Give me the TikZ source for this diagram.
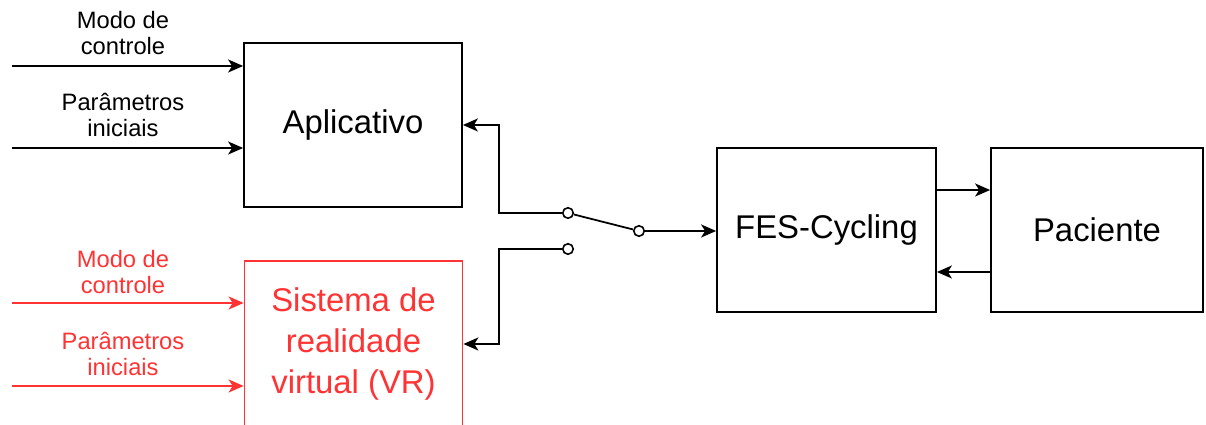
\documentclass[tikz,border=0pt]{standalone}
\usepackage{fontspec}
\setmainfont{Liberation Sans}
\definecolor{vrred}{RGB}{255,51,51}
\usetikzlibrary{arrows.meta,positioning,calc}

\begin{document}
\begin{tikzpicture}[
    line width=1pt,
    >={Stealth[length=0.3cm,width=0.26cm,inset=0.08cm]},
    block/.style={draw, minimum width=4.36cm, minimum height=3.28cm, align=center, inner sep=0pt, font=\fontsize{18.7}{23.2}\selectfont},
    inlabel/.style={align=center, font=\fontsize{13.5}{15}\selectfont},
    contact/.style={circle, draw, fill=white, inner sep=0pt, minimum size=0.21cm, line width=0.9pt}
  ]
  \useasboundingbox (0,0) rectangle (24.12,8.5);
  \clip (0,0) rectangle (24.12,8.5);

  % Blocks
  \node[block] (apl) at (7.06,6.0) {Aplicativo};
  \node[block, draw=vrred, text=vrred, minimum height=3.32cm] (vr) at (7.07,1.62) {Sistema de\\realidade\\virtual (VR)};
  \node[block, minimum width=4.38cm] (fes) at (16.53,3.90) {FES-Cycling};
  \node[block, minimum width=4.24cm] (pac) at (21.94,3.90) {Paciente};

  % Inputs of the app
  \coordinate (apl in1) at (0.24,7.18);
  \coordinate (apl in2) at (0.24,5.54);
  \draw[->] (apl in1) -- (apl in1 -| apl.west);
  \draw[->] (apl in2) -- (apl in2 -| apl.west);
  \node[inlabel] (apl lab1) at (2.46,7.84) {Modo de\\controle};
  \node[inlabel] (apl lab2) at (2.46,6.20) {Parâmetros\\iniciais};

  % Inputs of the VR system
  \coordinate (vr in1) at (0.24,2.44);
  \coordinate (vr in2) at (0.24,0.78);
  \draw[->, vrred] (vr in1) -- (vr in1 -| vr.west);
  \draw[->, vrred] (vr in2) -- (vr in2 -| vr.west);
  \node[inlabel, text=vrred] (vr lab1) at (2.46,3.06) {Modo de\\controle};
  \node[inlabel, text=vrred] (vr lab2) at (2.46,1.42) {Parâmetros\\iniciais};

  % Switch
  \node[contact] (sw1) at (11.36,4.24) {};
  \node[contact] (sw2) at (11.36,3.52) {};
  \node[contact] (sw3) at (12.78,3.88) {};
  \draw (sw1) -- (sw3);
  \draw[->] (sw1.west) -- (9.98,4.24) |- (apl.east);
  \draw[->] (sw2.west) -- (9.98,3.52) |- (vr.east);
  \draw[->] (sw3.east) -- (sw3 -| fes.west);

  % FES-Cycling and patient
  \draw[->] ([yshift=0.8cm]fes.east) -- ([yshift=0.8cm]pac.west);
  \draw[->] ([yshift=-0.84cm]pac.west) -- ([yshift=-0.84cm]fes.east);
\end{tikzpicture}
\end{document}
